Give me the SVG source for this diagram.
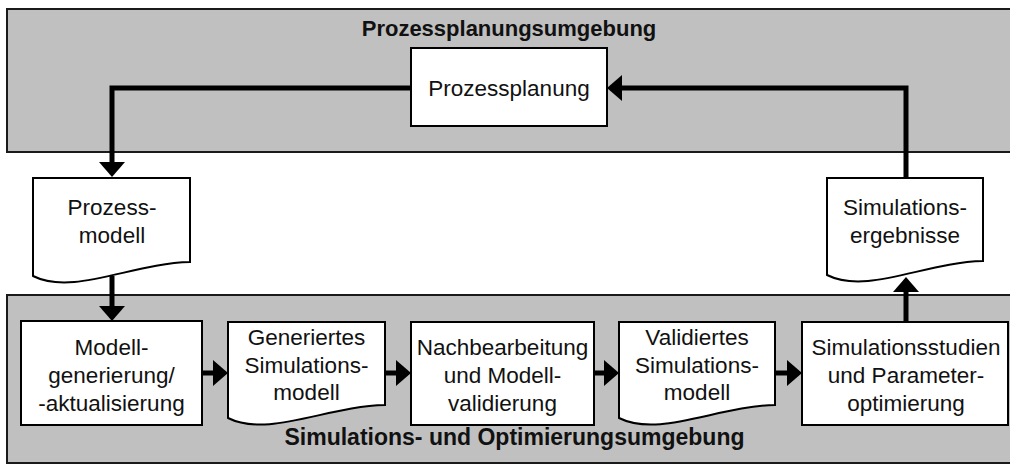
<svg xmlns="http://www.w3.org/2000/svg" width="1010" height="466" viewBox="0 0 1010 466">
<style>
.env{fill:#c0c0c0;stroke:#1a1a1a;stroke-width:2}
.box{fill:#fff;stroke:#000;stroke-width:2}
.t{font-family:"Liberation Sans",Arial,sans-serif;font-size:22.5px;fill:#111;text-anchor:middle}
.b{font-family:"Liberation Sans",Arial,sans-serif;font-size:22px;font-weight:bold;fill:#111;text-anchor:middle}
.c{fill:none;stroke:#000;stroke-width:5;marker-end:url(#ah)}
</style>
<defs>
<marker id="ah" viewBox="0 0 15 26" refX="0" refY="13" markerWidth="15" markerHeight="26" markerUnits="userSpaceOnUse" orient="auto">
<path d="M0,0 L15,13 L0,26 Z" fill="#000"/>
</marker>
</defs>
<g id="env-prozessplanung">
<rect class="env" x="7" y="9" width="1010" height="143"/>
<text class="b" x="509" y="36">Prozessplanungsumgebung</text>
</g>
<g id="env-simulation">
<rect class="env" x="7" y="295" width="1010" height="168"/>
<text class="b" x="514.5" y="445" style="font-size:23px">Simulations- und Optimierungsumgebung</text>
</g>
<g id="prozessplanung">
<rect class="box" x="411" y="48" width="196" height="78"/>
<text class="t" x="509" y="96">Prozessplanung</text>
</g>
<g id="prozessmodell">
<path class="box" d="M33,178 H190 V262 C133,263 73,296 33,276 Z"/>
<text class="t" x="112" y="215">Prozess-</text>
<text class="t" x="112" y="243">modell</text>
</g>
<g id="simulationsergebnisse">
<path class="box" d="M827,178 H983 V261 C926,262 867,295 827,275 Z"/>
<text class="t" x="905" y="215">Simulations-</text>
<text class="t" x="905" y="243">ergebnisse</text>
</g>
<g id="modellgenerierung">
<rect class="box" x="21" y="321" width="181" height="104"/>
<text class="t" x="111.5" y="355">Modell-</text>
<text class="t" x="111.5" y="383">generierung/</text>
<text class="t" x="111.5" y="411">-aktualisierung</text>
</g>
<g id="generiertes-modell">
<path class="box" d="M228,322 H385 V405 C328,406 268,438 228,418 Z"/>
<text class="t" x="306.5" y="345">Generiertes</text>
<text class="t" x="306.5" y="373">Simulations-</text>
<text class="t" x="306.5" y="400">modell</text>
</g>
<g id="nachbearbeitung">
<rect class="box" x="411" y="322" width="183" height="103"/>
<text class="t" x="502.5" y="355">Nachbearbeitung</text>
<text class="t" x="502.5" y="383">und Modell-</text>
<text class="t" x="502.5" y="411">validierung</text>
</g>
<g id="validiertes-modell">
<path class="box" d="M619,322 H775 V405 C718,406 659,438 619,418 Z"/>
<text class="t" x="697" y="345">Validiertes</text>
<text class="t" x="697" y="373">Simulations-</text>
<text class="t" x="697" y="400">modell</text>
</g>
<g id="simulationsstudien">
<rect class="box" x="802" y="322" width="206" height="103"/>
<text class="t" x="906" y="355">Simulationsstudien</text>
<text class="t" x="906" y="383">und Parameter-</text>
<text class="t" x="906" y="411">optimierung</text>
</g>
<g id="connectors">
<path class="c" d="M411,88 H112 V162"/>
<path class="c" d="M112,276 V306"/>
<path class="c" d="M202,373 H213"/>
<path class="c" d="M385,373 H396"/>
<path class="c" d="M594,373 H604"/>
<path class="c" d="M775,373 H787"/>
<path class="c" d="M906,322 V292"/>
<path class="c" d="M906,178 V88 H622"/>
</g>
</svg>
